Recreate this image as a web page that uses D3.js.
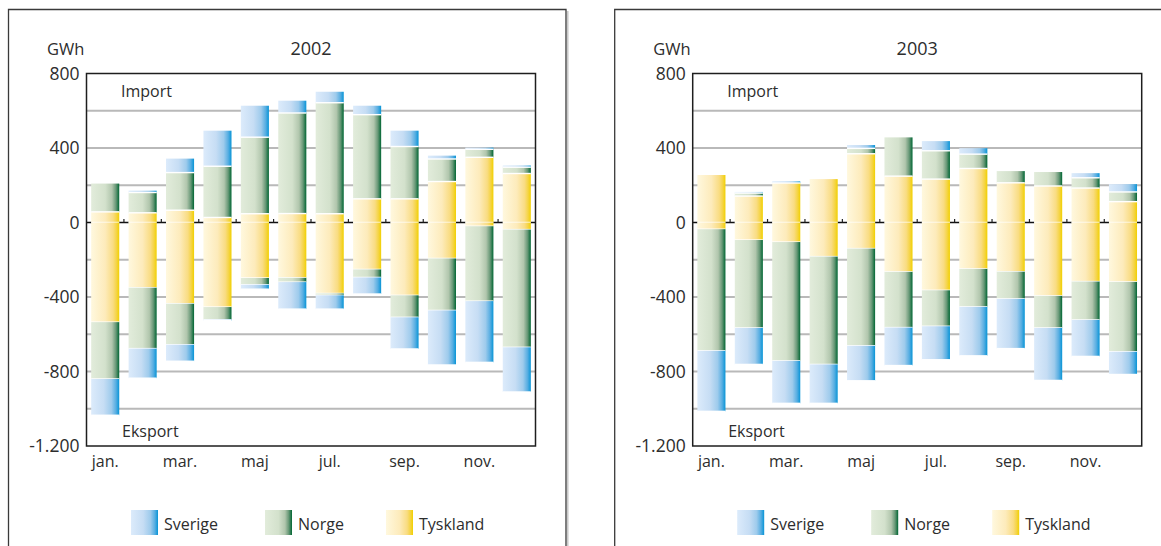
<!DOCTYPE html>
<html>
<head>
<meta charset="utf-8">
<script src="https://cdn.jsdelivr.net/npm/d3@7"></script>
<style>
  html, body { margin: 0; padding: 0; background: #fff; }
  svg { display: block; }
  text { font-family: "Open Sans", "DejaVu Sans", sans-serif; fill: #2d2d2d; }
</style>
</head>
<body>
<svg id="chart" width="1161" height="546"></svg>
<script>
// Danish electricity exchange, GWh per month (import > 0, export < 0)
const months = ["jan.", "feb.", "mar.", "apr.", "maj", "jun.", "jul.", "aug.", "sep.", "okt.", "nov.", "dec."];
const monthLabels = ["jan.", "mar.", "maj", "jul.", "sep.", "nov."];
const yTicks = [800, 400, 0, -400, -800, -1200];
const gridValues = [600, 400, 200, -200, -400, -600, -800, -1000];
const countries = ["Sverige", "Norge", "Tyskland"];
const years = ["2002", "2003"];

// 2002
const tysklandImport2002 = [57, 52, 66, 27, 47, 48, 47, 127, 127, 220, 350, 263];
const norgeImport2002 = [152, 109, 202, 275, 411, 540, 596, 452, 281, 121, 43, 34];
const sverigeImport2002 = [0, 10, 75, 191, 169, 66, 59, 48, 85, 18, 9, 9];
const tysklandExport2002 = [-535, -350, -436, -454, -298, -297, -381, -252, -391, -193, -20, -38];
const norgeExport2002 = [-305, -327, -220, -68, -36, -23, -10, -43, -118, -279, -402, -632];
const sverigeExport2002 = [-195, -159, -89, -5, -24, -145, -74, -89, -170, -293, -329, -240];

// 2003
const tysklandImport2003 = [255, 142, 212, 233, 369, 249, 233, 290, 213, 196, 185, 112];
const norgeImport2003 = [0, 16, 0, 0, 29, 208, 152, 77, 63, 75, 55, 52];
const sverigeImport2003 = [0, 6, 9, 0, 18, 0, 52, 32, 0, 0, 25, 42];
const tysklandExport2003 = [-36, -94, -105, -183, -140, -265, -364, -249, -264, -394, -317, -319];
const norgeExport2003 = [-653, -472, -638, -579, -522, -299, -193, -204, -146, -172, -206, -375];
const sverigeExport2003 = [-325, -196, -228, -209, -188, -204, -180, -263, -267, -282, -196, -122];

const svg = d3.select("#chart");

// horizontal shading used by every bar of a country
const gradients = {
  Sverige: [[0, "#dcebfb"], [0.45, "#c6ddf4"], [0.72, "#9ecbec"], [0.88, "#58aee2"], [1, "#0794d6"]],
  Norge: [[0, "#e2ecdb"], [0.5, "#d3e1cc"], [0.74, "#b1c6ad"], [0.88, "#689877"], [1, "#006633"]],
  Tyskland: [[0, "#fff8de"], [0.5, "#fdebbb"], [0.78, "#f9dc82"], [0.9, "#f5d445"], [1, "#f1d000"]]
};
const defs = svg.append("defs");
Object.entries(gradients).forEach(([name, stops]) => {
  const lg = defs.append("linearGradient").attr("id", "grad-" + name)
    .attr("x1", 0).attr("x2", 1).attr("y1", 0).attr("y2", 0);
  stops.forEach(([o, c]) => lg.append("stop").attr("offset", o).attr("stop-color", c));
});

const daLocale = d3.formatLocale({ decimal: ",", thousands: ".", grouping: [3], currency: ["", " kr."], minus: "-" });
const fmt = daLocale.format(",");

const plotW = 449, plotH = 372.5;
const keys = ["tyImp", "noImp", "svImp", "tyExp", "noExp", "svExp"];
const keyCountry = { tyImp: "Tyskland", noImp: "Norge", svImp: "Sverige", tyExp: "Tyskland", noExp: "Norge", svExp: "Sverige" };

function drawPanel(offsetX, year, series) {
  const rows = months.map((m, i) => ({
    month: m,
    tyImp: series.tyImp[i], noImp: series.noImp[i], svImp: series.svImp[i],
    tyExp: series.tyExp[i], noExp: series.noExp[i], svExp: series.svExp[i]
  }));

  // panel frame
  const frame = svg.append("g");
  frame.append("path")
    .attr("d", `M${offsetX + 8.5},546 V9.5 H${offsetX + 566}` + (offsetX === 0 ? " V546" : ""))
    .attr("fill", "none").attr("stroke", "#3a3a3a").attr("stroke-width", 1.3);
  if (offsetX === 0) {
    frame.append("line").attr("x1", 567.8).attr("x2", 567.8).attr("y1", 11).attr("y2", 546)
      .attr("stroke", "#c4c4c4").attr("stroke-width", 1.4);
  }

  const g = svg.append("g").attr("transform", `translate(${offsetX + 86.5},73.5)`);
  const x = d3.scaleBand().domain(months).range([0, plotW]).paddingInner(0.25).paddingOuter(0.125);
  const y = d3.scaleLinear().domain([-1200, 800]).range([plotH, 0]);

  // grid
  g.selectAll(".grid").data(gridValues).join("line")
    .attr("x1", 0).attr("x2", plotW)
    .attr("y1", d => y(d)).attr("y2", d => y(d))
    .attr("stroke", "#b9b9b9").attr("stroke-width", 2);

  // zero line with small ticks between months
  g.append("line").attr("x1", 0).attr("x2", plotW).attr("y1", y(0)).attr("y2", y(0))
    .attr("stroke", "#111").attr("stroke-width", 1.5);
  const step = x.step();
  g.selectAll(".zt").data(d3.range(1, months.length)).join("line")
    .attr("x1", d => d * step).attr("x2", d => d * step)
    .attr("y1", y(0)).attr("y2", y(0) - 3.5)
    .attr("stroke", "#222").attr("stroke-width", 1.2);

  // stacked bars
  const stacked = d3.stack().keys(keys).offset(d3.stackOffsetDiverging)(rows);
  stacked.forEach(s => {
    const country = keyCountry[s.key];
    const segs = s.filter(d => d[1] - d[0] !== 0);
    g.selectAll(null).data(segs).join("rect")
      .attr("x", d => x(d.data.month))
      .attr("width", x.bandwidth())
      .attr("y", d => y(Math.max(d[0], d[1])))
      .attr("height", d => Math.abs(y(d[0]) - y(d[1])))
      .attr("fill", `url(#grad-${country})`);
    // white seam at the inner edge of each segment
    g.selectAll(null).data(segs).join("line")
      .attr("x1", d => x(d.data.month)).attr("x2", d => x(d.data.month) + x.bandwidth())
      .attr("y1", d => y(d[0])).attr("y2", d => y(d[0]))
      .attr("stroke", "#fff").attr("stroke-width", 1.4);
  });

  // plot frame
  g.append("rect").attr("x", 0).attr("y", 0).attr("width", plotW).attr("height", plotH)
    .attr("fill", "none").attr("stroke", "#1e1e1e").attr("stroke-width", 1.5);

  // y axis labels
  const ya = g.append("g").call(d3.axisLeft(y).tickValues(yTicks).tickSize(0).tickPadding(7).tickFormat(fmt));
  ya.select(".domain").remove();
  ya.selectAll("text").style("font-family", '"Open Sans", sans-serif').style("font-size", "17.5px").attr("fill", "#2d2d2d");

  // x axis labels
  const xa = g.append("g").attr("transform", `translate(0,${plotH})`)
    .call(d3.axisBottom(x).tickValues(monthLabels).tickSize(0).tickPadding(10));
  xa.select(".domain").remove();
  xa.selectAll("text").style("font-family", '"Open Sans", sans-serif').style("font-size", "16px").attr("fill", "#2d2d2d");

  // titles
  svg.append("text").attr("x", offsetX + 47).attr("y", 55).style("font-size", "16.5px").text("GWh");
  svg.append("text").attr("x", offsetX + 86.5 + plotW / 2).attr("y", 55).attr("text-anchor", "middle")
    .style("font-size", "18px").text(year);
  g.append("text").attr("x", 34.5).attr("y", 23).style("font-size", "16px").text("Import");
  g.append("text").attr("x", 35.5).attr("y", 363.5).style("font-size", "16px").text("Eksport");

  // legend
  const legendX = [131, 265, 386];
  const lg = svg.append("g").attr("transform", `translate(${offsetX},0)`);
  countries.forEach((c, i) => {
    lg.append("rect").attr("x", legendX[i]).attr("y", 510).attr("width", 27).attr("height", 25)
      .attr("fill", `url(#grad-${c})`);
    lg.append("text").attr("x", legendX[i] + 33).attr("y", 530).style("font-size", "16px").text(c);
  });
}

drawPanel(0, years[0], {
  tyImp: tysklandImport2002, noImp: norgeImport2002, svImp: sverigeImport2002,
  tyExp: tysklandExport2002, noExp: norgeExport2002, svExp: sverigeExport2002
});
drawPanel(606.2, years[1], {
  tyImp: tysklandImport2003, noImp: norgeImport2003, svImp: sverigeImport2003,
  tyExp: tysklandExport2003, noExp: norgeExport2003, svExp: sverigeExport2003
});
</script>
</body>
</html>
